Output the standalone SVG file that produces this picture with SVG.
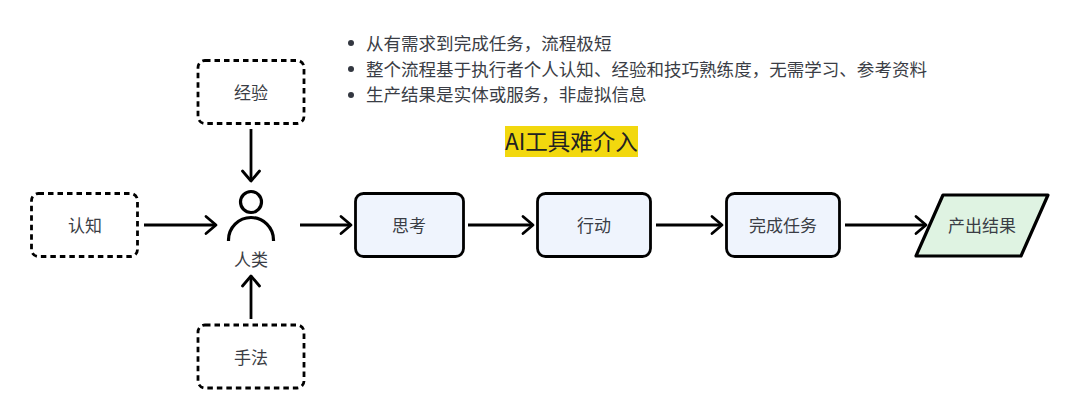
<svg xmlns="http://www.w3.org/2000/svg" width="1080" height="420" viewBox="0 0 1080 420">
<defs>
<marker id="arrow" markerUnits="userSpaceOnUse" markerWidth="14" markerHeight="24" refX="12" refY="12" orient="auto"><path d="M2 3.500 L12 12 L2 20.500" fill="none" stroke="#000" stroke-width="2.800" stroke-linecap="round" stroke-linejoin="round"/></marker>
</defs>
<style>
text{font-family:"Noto Sans CJK SC","Noto Sans",sans-serif;fill:#3a3d45;}
.l{font-size:17px;text-anchor:middle;}
.b{font-size:17.55px;}
.dash{fill:#fff;stroke:#000;stroke-width:2.800;stroke-dasharray:5.500 4;}
.box{fill:#eff4fd;stroke:#000;stroke-width:2.800;}
.conn{fill:none;stroke:#000;stroke-width:2.800;marker-end:url(#arrow);}
</style>
<rect width="1080" height="420" fill="#fff"/>
<g id="notes">
<circle cx="351" cy="43" r="3" fill="#333740"/><text class="b" x="366" y="50">从有需求到完成任务，流程极短</text>
<circle cx="351" cy="69" r="3" fill="#333740"/><text class="b" x="366" y="76">整个流程基于执行者个人认知、经验和技巧熟练度，无需学习、参考资料</text>
<circle cx="351" cy="95" r="3" fill="#333740"/><text class="b" x="366" y="101">生产结果是实体或服务，非虚拟信息</text>
</g>
<g id="title"><rect x="505" y="126" width="133" height="31" fill="#f2d80e"/><text x="505" y="150" style="font-size:22.500px;fill:#222">AI工具难介入</text></g>
<g id="connectors">
<path class="conn" d="M144 225H216"/>
<path class="conn" d="M251 129V181"/>
<path class="conn" d="M251 319V276"/>
<path class="conn" d="M300 225H351"/>
<path class="conn" d="M468 225H533"/>
<path class="conn" d="M656 225H722"/>
<path class="conn" d="M845 225H926"/>
</g>
<g id="renzhi"><rect class="dash" x="31.500" y="193.500" width="106" height="63" rx="7"/><text class="l" x="85" y="232">认知</text></g>
<g id="jingyan"><rect class="dash" x="198" y="60.500" width="106" height="63" rx="7"/><text class="l" x="251" y="99">经验</text></g>
<g id="shoufa"><rect class="dash" x="198" y="325" width="106" height="63" rx="7"/><text class="l" x="251" y="364">手法</text></g>
<g id="human">
<circle cx="251" cy="202" r="10.500" fill="none" stroke="#000" stroke-width="3.200"/>
<path d="M228.500 241V240A22.500 22.500 0 0 1 273.500 240V241" fill="none" stroke="#000" stroke-width="3.200"/>
<text class="l" x="251" y="266">人类</text>
</g>
<g id="sikao"><rect class="box" x="355.500" y="193.500" width="108" height="63" rx="8"/><text class="l" x="409" y="232">思考</text></g>
<g id="xingdong"><rect class="box" x="537.500" y="193.500" width="113" height="63" rx="8"/><text class="l" x="594" y="232">行动</text></g>
<g id="wancheng"><rect class="box" x="726.500" y="193.500" width="113" height="63" rx="8"/><text class="l" x="783" y="232">完成任务</text></g>
<g id="chanchu"><path d="M943 195H1048L1021 256H916Z" fill="#dff3e2" stroke="#000" stroke-width="3.200" stroke-linejoin="round"/><text class="l" x="982" y="232">产出结果</text></g>
</svg>
